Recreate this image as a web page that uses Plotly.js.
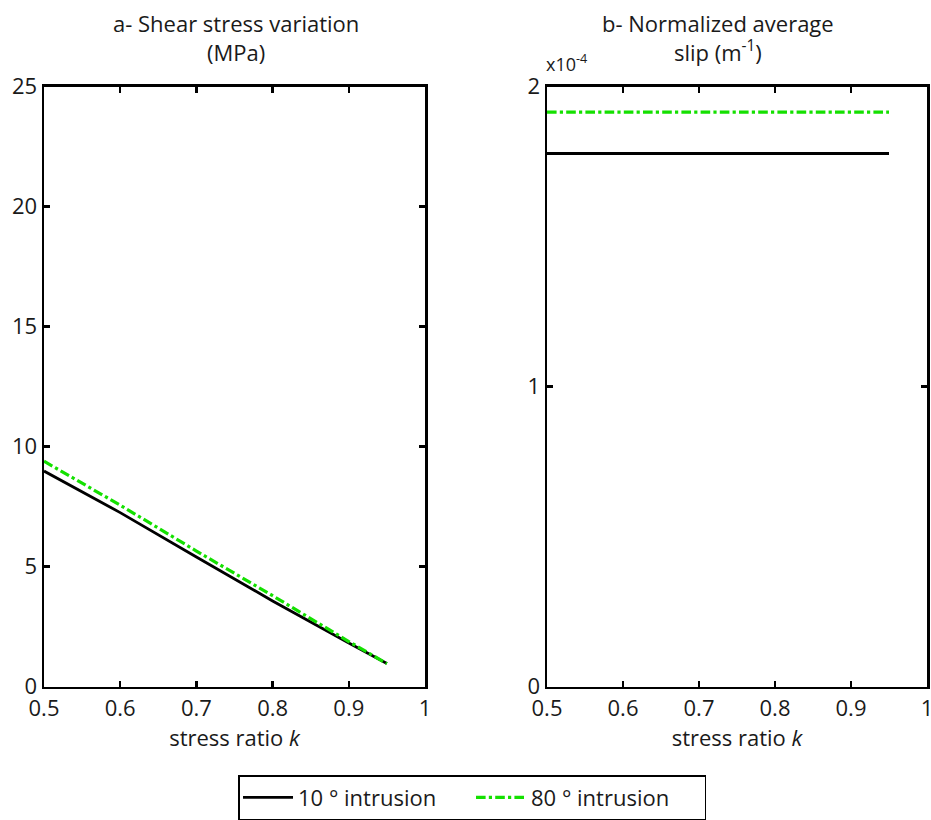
<!DOCTYPE html>
<html><head><meta charset="utf-8">
<script src="https://cdn.plot.ly/plotly-3.0.1.min.js"></script>
<style>html,body{margin:0;padding:0;background:#fff}#c{width:931px;height:820px}</style>
</head><body><div id="c"></div>
<script>
// Data
const k = [0.5, 0.6, 0.7, 0.8, 0.9, 0.95];
const shear10 = [8.98, 7.25, 5.40, 3.57, 1.82, 0.96];
const shear80 = [9.39, 7.56, 5.65, 3.79, 1.88, 0.96];
const kSlip = [0.5, 0.95];
const slip10 = [1.777e-4, 1.777e-4];
const slip80 = [1.915e-4, 1.915e-4];
const names = ["10 ° intrusion", "80 ° intrusion"];
const xTicks = [0.5, 0.6, 0.7, 0.8, 0.9, 1];
const xTickText = ["0.5", "0.6", "0.7", "0.8", "0.9", "1"];
const yTicksA = [0, 5, 10, 15, 20, 25];
const yTicksB = [0, 1e-4, 2e-4];
const yTickTextB = ["0", "1", "2"];

const FONT = "Open Sans, Lato, DejaVu Sans, sans-serif";
const green = "#14e000";
const TXT = "#1a1a1a";

const traces = [
  {x: k, y: shear10, name: names[0], mode: "lines", line: {color: "#000", width: 2.8}, xaxis: "x", yaxis: "y", legendgroup: "a"},
  {x: k, y: shear80, name: names[1], mode: "lines", line: {color: green, width: 3.2, dash: "dashdot"}, xaxis: "x", yaxis: "y", legendgroup: "b"},
  {x: kSlip, y: slip10, name: names[0], mode: "lines", line: {color: "#000", width: 2.8}, xaxis: "x2", yaxis: "y2", showlegend: false, legendgroup: "a"},
  {x: kSlip, y: slip80, name: names[1], mode: "lines", line: {color: green, width: 3.2, dash: "dashdot"}, xaxis: "x2", yaxis: "y2", showlegend: false, legendgroup: "b"}
];

const W = 931, H = 820;
const axCommon = {
  showline: true, linecolor: "#000", linewidth: 2.5, mirror: "ticks",
  ticks: "inside", ticklen: 6, tickwidth: 2.5, tickcolor: "#000",
  showgrid: false, zeroline: false, tickfont: {family: FONT, size: 22, color: TXT},
  ticklabeloverflow: "allow"
};
const xCommon = Object.assign({}, axCommon, {
  range: [0.5, 1], tickvals: xTicks, ticktext: xTickText,
  title: {text: "stress ratio <i>k</i>", font: {family: FONT, size: 22, color: TXT}, standoff: 4}
});

const yTop = 1 - 87 / H, yBot = 1 - 690 / H;

const layout = {
  width: W, height: H,
  margin: {l: 0, r: 0, t: 0, b: 0},
  paper_bgcolor: "#fff", plot_bgcolor: "#fff",
  font: {family: FONT, color: TXT},
  xaxis: Object.assign({}, xCommon, {domain: [44 / W, 425 / W], anchor: "y"}),
  yaxis: Object.assign({}, axCommon, {domain: [yBot, yTop], range: [0, 25], tickvals: yTicksA, anchor: "x"}),
  xaxis2: Object.assign({}, xCommon, {domain: [547 / W, 927 / W], anchor: "y2"}),
  yaxis2: Object.assign({}, axCommon, {domain: [yBot, yTop], range: [0, 2e-4], tickvals: yTicksB, ticktext: yTickTextB, anchor: "x2"}),
  showlegend: true,
  legend: {
    orientation: "h", x: 0.507, xanchor: "center", y: 1 - 779 / H, yanchor: "top",
    bordercolor: "#000", borderwidth: 1.5, bgcolor: "#fff",
    font: {family: FONT, size: 22, color: TXT}, itemwidth: 50,
    entrywidth: 168, entrywidthmode: "pixels"
  },
  annotations: [
    {text: "a- Shear stress variation<br>(MPa)", xref: "paper", yref: "paper", x: 236 / W, y: 1 - 6 / H,
     xanchor: "center", yanchor: "top", showarrow: false, font: {family: FONT, size: 22, color: TXT}},
    {text: "b- Normalized average<br>slip (m<sup>-1</sup>)", xref: "paper", yref: "paper", x: 718 / W, y: 1 - 6 / H,
     xanchor: "center", yanchor: "top", showarrow: false, font: {family: FONT, size: 22, color: TXT}},
    {text: "x10<sup>-4</sup>", xref: "paper", yref: "paper", x: 544 / W, y: 1 - 78 / H,
     xanchor: "left", yanchor: "bottom", showarrow: false, font: {family: FONT, size: 18, color: TXT}}
  ]
};

Plotly.newPlot("c", traces, layout, {displayModeBar: false, staticPlot: true});
</script></body></html>
